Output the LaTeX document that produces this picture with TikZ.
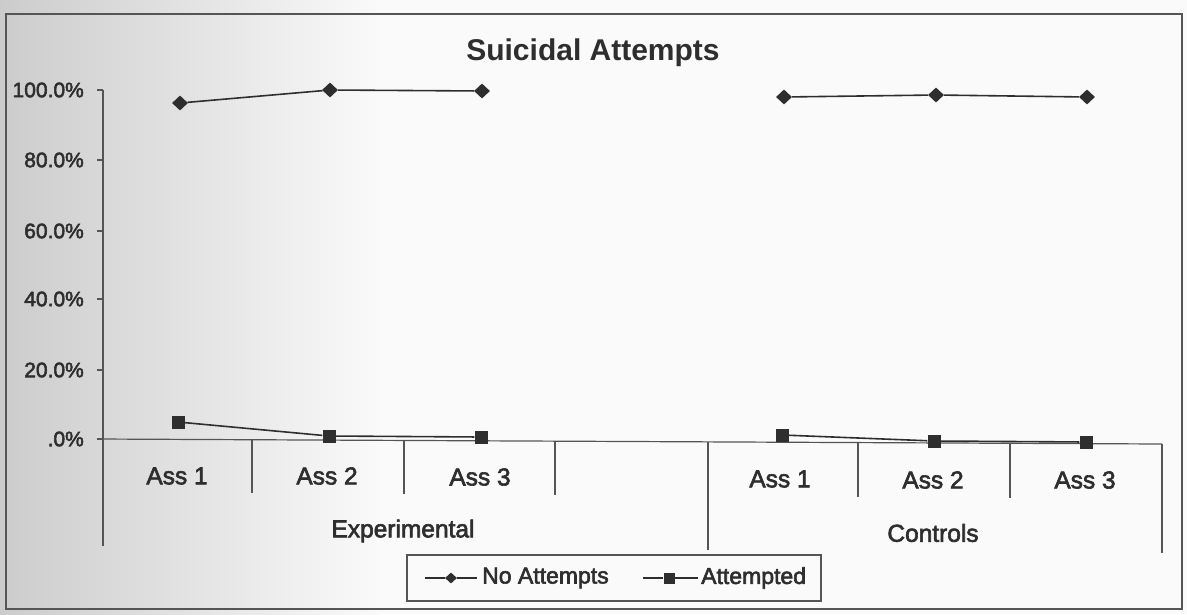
\documentclass[tikz,border=0pt]{standalone}
\usepackage{fontspec}
\setmainfont{Liberation Sans}
\newfontfamily\scanfont{Liberation Sans}[FakeBold=2.5]
\usetikzlibrary{shapes.geometric}
\definecolor{ink}{HTML}{2E2E2E}
\definecolor{axisc}{HTML}{555555}
\begin{document}
\begin{tikzpicture}[x=1pt,y=-1pt,
  dia/.style={diamond, fill=ink, draw=none, inner sep=0pt, minimum width=16pt, minimum height=15pt},
  sq/.style={rectangle, fill=ink, draw=none, inner sep=0pt, minimum size=13pt},
  series/.style={draw=ink, line width=1.6pt},
  axisline/.style={draw=axisc, line width=1.2pt},
  catlbl/.style={font=\scanfont\fontsize{24.5}{28}\selectfont, text=ink, inner sep=0pt},
  ticklbl/.style={font=\scanfont\fontsize{21}{25}\selectfont, text=ink, anchor=east, inner sep=0pt},
  leglbl/.style={font=\scanfont\fontsize{23}{27}\selectfont, text=ink, anchor=west, inner sep=0pt},
  titlelbl/.style={font=\bfseries\fontsize{30}{34}\selectfont, text=ink, inner sep=0pt}]
\useasboundingbox (0,0) rectangle (1187,614);
% paper background with scan shadow on the left
\fill[gray!4] (0,0) rectangle (1187,614);
\shade[left color=gray!40, right color=gray!4] (0,0) rectangle (380,614);
% chart frame
\draw[axisline, line width=1.4pt] (6,14) rectangle (1182,609);
% title
\node[titlelbl] (title) at (593,53) {Suicidal Attempts};
% y axis and ticks
\draw[axisline] (103,90) -- (103,546);
\foreach \lab/\yy/\nm in {100.0\%/90/t100, 80.0\%/160/t80, 60.0\%/231/t60, 40.0\%/299/t40, 20.0\%/370/t20, .0\%/439/t0}{
  \draw[axisline] (97,\yy) -- (103,\yy);
  \node[ticklbl] (\nm) at (84,\yy) {\lab};
}
% x axis (slightly tilted as in the scan)
\draw[axisline] (97,439) -- (1162,444);
% category separators
\draw[axisline] (252,439.7) -- (252,493);
\draw[axisline] (404,440.4) -- (404,494);
\draw[axisline] (555,441.1) -- (555,495);
\draw[axisline] (708,441.9) -- (708,550);
\draw[axisline] (858,442.6) -- (858,497);
\draw[axisline] (1010,443.3) -- (1010,498);
\draw[axisline] (1162,444) -- (1162,553);
% category labels
\node[catlbl] (ea1) at (177,476) {Ass 1};
\node[catlbl] (ea2) at (327,476) {Ass 2};
\node[catlbl] (ea3) at (480,477) {Ass 3};
\node[catlbl] (ca1) at (780,479) {Ass 1};
\node[catlbl] (ca2) at (933,480) {Ass 2};
\node[catlbl] (ca3) at (1085,480) {Ass 3};
\node[catlbl] (gexp) at (403,531) {Experimental};
\node[catlbl] (gctl) at (933,533) {Controls};
% No Attempts series
\node[dia] (n1) at (180,103) {};
\node[dia] (n2) at (330,90) {};
\node[dia] (n3) at (482,91) {};
\node[dia] (n5) at (784,97) {};
\node[dia] (n6) at (936,95) {};
\node[dia] (n7) at (1087,97) {};
\draw[series] (n1) -- (n2) -- (n3);
\draw[series] (n5) -- (n6) -- (n7);
% Attempted series
\node[sq] (a1) at (178,422) {};
\node[sq] (a2) at (329,436) {};
\node[sq] (a3) at (481,437) {};
\node[sq] (a5) at (782,435) {};
\node[sq] (a6) at (934,441) {};
\node[sq] (a7) at (1086,442) {};
\draw[series] (a1) -- (a2) -- (a3);
\draw[series] (a5) -- (a6) -- (a7);
% legend
\draw[axisline, fill=gray!4] (407,555) rectangle (821,601);
\coordinate (l1a) at (425,578);
\coordinate (l1b) at (477,578);
\node[dia, minimum width=12pt, minimum height=11pt] (ld) at (451,578) {};
\draw[series] (l1a) -- (ld) -- (l1b);
\node[leglbl] (lnoatt) at (482,578) {No Attempts};
\coordinate (l2a) at (643,578);
\coordinate (l2b) at (698,578);
\node[sq, minimum size=11pt] (ls) at (669,578) {};
\draw[series] (l2a) -- (ls) -- (l2b);
\node[leglbl] (latt) at (701,578) {Attempted};
\end{tikzpicture}
\end{document}
